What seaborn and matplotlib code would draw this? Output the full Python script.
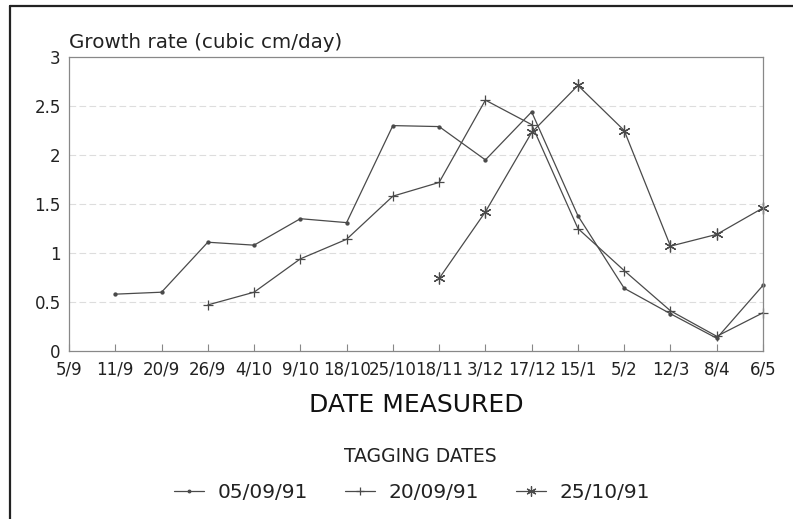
import matplotlib
matplotlib.use("Agg")
import matplotlib.pyplot as plt
from matplotlib.lines import Line2D
import seaborn as sns
import pandas as pd

dates = ["5/9", "11/9", "20/9", "26/9", "4/10", "9/10", "18/10", "25/10",
         "18/11", "3/12", "17/12", "15/1", "5/2", "12/3", "8/4", "6/5"]

tag_0509 = ["11/9", "20/9", "26/9", "4/10", "9/10", "18/10", "25/10", "18/11",
            "3/12", "17/12", "15/1", "5/2", "12/3", "8/4", "6/5"]
rate_0509 = [0.58, 0.60, 1.11, 1.08, 1.35, 1.31, 2.30, 2.29,
             1.95, 2.44, 1.38, 0.64, 0.38, 0.13, 0.67]

tag_2009 = ["26/9", "4/10", "9/10", "18/10", "25/10", "18/11", "3/12",
            "17/12", "15/1", "5/2", "12/3", "8/4", "6/5"]
rate_2009 = [0.47, 0.60, 0.94, 1.14, 1.58, 1.72, 2.56,
             2.31, 1.25, 0.82, 0.41, 0.15, 0.39]

tag_2510 = ["18/11", "3/12", "17/12", "15/1", "5/2", "12/3", "8/4", "6/5"]
rate_2510 = [0.74, 1.42, 2.23, 2.71, 2.25, 1.07, 1.19, 1.46]

series_names = ["05/09/91", "20/09/91", "25/10/91"]
yticks = [0, 0.5, 1, 1.5, 2, 2.5, 3]
ytick_labels = ["0", "0.5", "1", "1.5", "2", "2.5", "3"]

sns.set_theme(style="white")
plt.rcParams['font.family'] = ['DejaVu Sans']

rows = []
for name, cats, vals in zip(series_names, [tag_0509, tag_2009, tag_2510],
                            [rate_0509, rate_2009, rate_2510]):
    for c, v in zip(cats, vals):
        rows.append({"pos": dates.index(c), "rate": v, "tag": name})
df = pd.DataFrame(rows)

fig = plt.figure(figsize=(7.93, 5.19), dpi=100)
ax = fig.add_axes([69/793, 1-351/519, (763-69)/793, (351-57)/519])

line_col = "#4a4a4a"
markers = {"05/09/91": "o", "20/09/91": "+", "25/10/91": (6, 2, 0)}
sizes = {"05/09/91": 2.2, "20/09/91": 7.5, "25/10/91": 8.5}
for name in series_names:
    sub = df[df["tag"] == name]
    sns.lineplot(data=sub, x="pos", y="rate", ax=ax, color=line_col,
                 linewidth=0.9, marker=markers[name], markersize=sizes[name],
                 markeredgewidth=0.9, markeredgecolor=line_col,
                 markerfacecolor=line_col, legend=False, clip_on=False)

ax.set_xlim(0, len(dates) - 1)
ax.set_ylim(0, 3)
ax.set_xticks(range(len(dates)))
ax.set_xticklabels(dates, fontsize=12, color="#222222")
ax.set_yticks(yticks)
ax.set_yticklabels(ytick_labels, fontsize=12, color="#222222")
ax.tick_params(axis="x", direction="in", length=5, width=0.8, color="#888888",
               pad=7, bottom=True)
ax.tick_params(axis="y", length=0, pad=6)
for y in yticks[1:-1]:
    ax.axhline(y, color="#dddddd", linewidth=0.8, linestyle=(0, (6, 3)), zorder=0)
for s in ax.spines.values():
    s.set_color("#888888")
    s.set_linewidth(0.9)
ax.set_xlabel("DATE MEASURED", fontsize=18, color="#111111", labelpad=10)
ax.set_ylabel("")

fig.text(69/793, 1-43/519, "Growth rate (cubic cm/day)", fontsize=14.3,
         ha="left", va="center", color="#222222")

handles = [Line2D([], [], color=line_col, linewidth=0.9, marker=markers[n],
                  markersize=sizes[n] * 0.85, markeredgewidth=0.9,
                  markeredgecolor=line_col, markerfacecolor=line_col)
           for n in series_names]
leg = fig.legend(handles, series_names, ncol=3,
                 loc="center", bbox_to_anchor=(412/793, 1-493/519),
                 frameon=False, fontsize=14.5,
                 handlelength=1.5, handletextpad=0.7, columnspacing=1.8,
                 borderpad=0.2)
for t in leg.get_texts():
    t.set_color("#222222")
fig.text(420/793, 1-456/519, "TAGGING DATES", fontsize=13.5,
         ha="center", va="center", color="#222222")

# outer frame (left and top edges of the scanned box)
fig.add_artist(Line2D([10/793, 10/793], [0, 1-6/519], color="#222222",
                      linewidth=1.6, transform=fig.transFigure))
fig.add_artist(Line2D([10/793, 1], [1-6/519, 1-6/519], color="#222222",
                      linewidth=1.6, transform=fig.transFigure))

fig.savefig("out.png", dpi=100, facecolor="white")
